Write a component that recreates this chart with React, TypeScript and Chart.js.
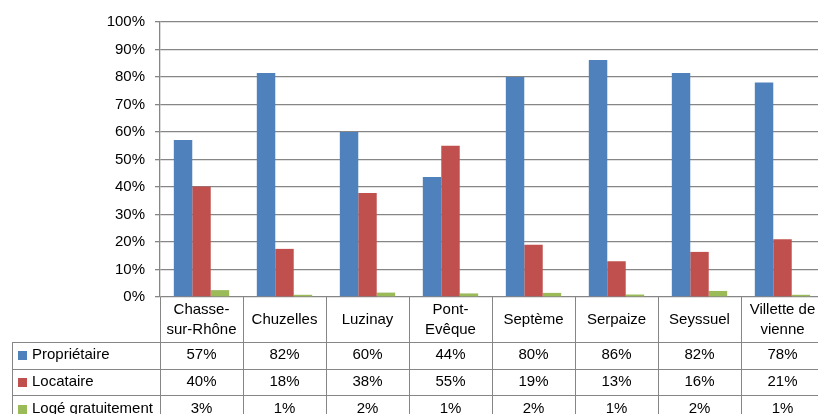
import React, { useEffect, useRef } from "react";
import { Chart, registerables } from "chart.js";

Chart.register(...registerables);

const categories: string[][] = [
  ["Chasse-", "sur-Rhône"],
  ["Chuzelles"],
  ["Luzinay"],
  ["Pont-", "Evêque"],
  ["Septème"],
  ["Serpaize"],
  ["Seyssuel"],
  ["Villette de", "vienne"],
];
const seriesNames = ["Propriétaire", "Locataire", "Logé gratuitement"];
const proprietaire = [57.1, 81.5, 60.0, 43.6, 80.0, 86.2, 81.5, 78.0];
const locataire = [40.2, 17.5, 37.8, 55.0, 19.0, 13.0, 16.4, 21.0];
const logeGratuit = [2.5, 0.8, 1.6, 1.3, 1.5, 0.9, 2.2, 0.8];
const seriesColors = ["#4F81BD", "#C0504D", "#9BBB59"];
const yMin = 0;
const yMax = 100;
const yStep = 10;

const FONT = '"Liberation Sans", Arial, sans-serif';
const LINE = "#868686";

const tablePlugin = {
  id: "dataTable",
  afterDraw(chart: any) {
    const { ctx, chartArea } = chart;
    const left = chartArea.left;
    const right = chartArea.right;
    const bottom = chartArea.bottom;
    const n = categories.length;
    const colW = (right - left) / n;
    const headerH = 45;
    const rowH = 26.6;
    const tableLeft = 12;
    const H = chart.height;
    const data = [proprietaire, locataire, logeGratuit];
    const px = (v: number) => Math.round(v) + 0.5;

    ctx.save();
    ctx.strokeStyle = LINE;
    ctx.lineWidth = 1;
    ctx.beginPath();
    for (let i = 0; i <= n; i++) {
      const x = px(left + i * colW);
      ctx.moveTo(x, bottom);
      ctx.lineTo(x, H);
    }
    ctx.moveTo(px(tableLeft), px(bottom + headerH));
    ctx.lineTo(px(tableLeft), H);
    for (let r = 0; r < 3; r++) {
      const y = px(bottom + headerH + r * rowH);
      ctx.moveTo(tableLeft, y);
      ctx.lineTo(right, y);
    }
    ctx.stroke();

    ctx.fillStyle = "#000";
    ctx.font = `15px ${FONT}`;
    ctx.textAlign = "center";
    ctx.textBaseline = "middle";
    const hc = bottom + headerH / 2;
    categories.forEach((lines, i) => {
      const cx = left + (i + 0.5) * colW;
      const y0 = hc - ((lines.length - 1) * 20) / 2;
      lines.forEach((t, k) => ctx.fillText(t, cx, y0 + k * 20));
    });
    for (let r = 0; r < 3; r++) {
      const cy = bottom + headerH + rowH * (r + 0.5);
      ctx.textAlign = "center";
      ctx.fillStyle = "#000";
      data[r].forEach((v, i) => {
        const cx = left + (i + 0.5) * colW;
        ctx.fillText(Math.round(v) + "%", cx, cy);
      });
      ctx.fillStyle = seriesColors[r];
      ctx.fillRect(18, Math.round(cy - 4), 9, 9);
      ctx.fillStyle = "#000";
      ctx.textAlign = "left";
      ctx.fillText(seriesNames[r], 32, cy);
    }
    ctx.restore();
  },
};

export default function App() {
  const ref = useRef<HTMLCanvasElement | null>(null);
  useEffect(() => {
    document.body.style.margin = "0";
    const canvas = ref.current;
    if (!canvas) return;
    const chart = new Chart(canvas, {
      type: "bar",
      data: {
        labels: categories,
        datasets: [proprietaire, locataire, logeGratuit].map((d, i) => ({
          label: seriesNames[i],
          data: d,
          backgroundColor: seriesColors[i],
          borderWidth: 0,
          categoryPercentage: 0.667,
          barPercentage: 1,
        })),
      },
      options: {
        animation: false,
        responsive: false,
        maintainAspectRatio: false,
        layout: { padding: { top: 22, right: 1, left: 0, bottom: 0 } },
        plugins: { legend: { display: false }, tooltip: { enabled: false } },
        scales: {
          x: {
            offset: true,
            ticks: { display: false },
            grid: { display: false },
            border: { display: false },
            afterFit: (s: any) => {
              s.height = 117;
            },
          },
          y: {
            min: yMin,
            max: yMax,
            ticks: {
              stepSize: yStep,
              callback: (v: any) => v + "%",
              color: "#000",
              font: { family: FONT, size: 15 },
              padding: 10,
            },
            grid: { color: LINE, lineWidth: 1.3, tickLength: 5 },
            border: { display: true, color: LINE, width: 1.3 },
            afterFit: (s: any) => {
              s.width = 160;
            },
          },
        },
      },
      plugins: [tablePlugin],
    });
    return () => chart.destroy();
  }, []);
  return (
    <div style={{ width: 818, height: 414, overflow: "hidden", background: "#fff" }}>
      <canvas ref={ref} width={825} height={414} style={{ display: "block" }} />
    </div>
  );
}
